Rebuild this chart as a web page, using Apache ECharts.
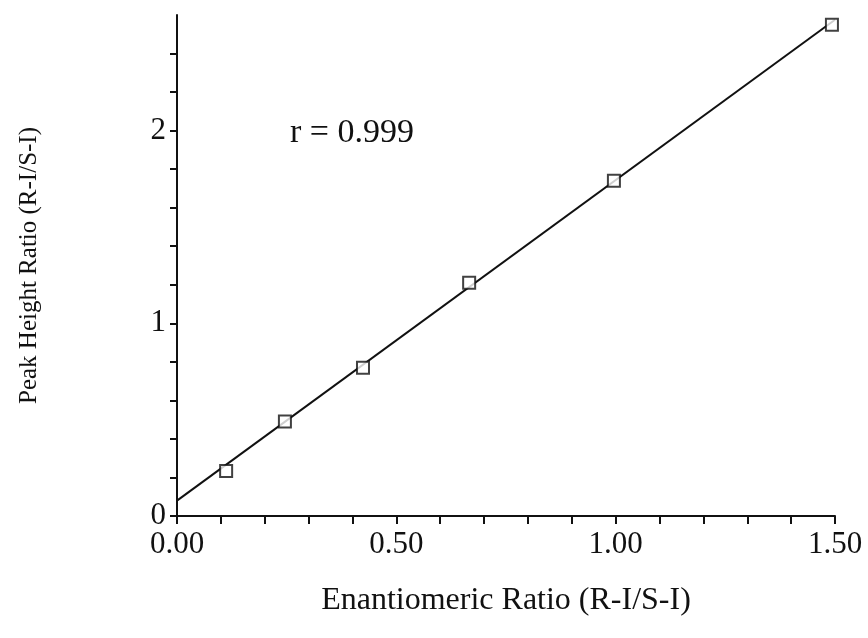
<!DOCTYPE html>
<html><head><meta charset="utf-8">
<script src="https://cdn.jsdelivr.net/npm/echarts@6/dist/echarts.min.js"></script>
<style>html,body{margin:0;padding:0;background:#fff}#c{width:868px;height:638px}</style>
</head><body><div id="c"></div>
<script>
var pointsX = [0.112, 0.246, 0.424, 0.666, 0.996, 1.493];
var pointsY = [0.234, 0.49, 0.77, 1.21, 1.74, 2.55];
var fitX = [0, 1.5];
var fitY = [0.08, 2.575];
var xTickLabels = ['0.00', '0.50', '1.00', '1.50'];
var yTickLabels = ['0', '1', '2'];
var annotation = 'r = 0.999';
var xTitle = 'Enantiomeric Ratio (R-I/S-I)';
var yTitle = 'Peak Height Ratio (R-I/S-I)';

var font = 'Liberation Serif';
var chart = echarts.init(document.getElementById('c'), null, {renderer: 'canvas'});
function near(v, step) { return Math.abs(v / step - Math.round(v / step)) < 1e-6; }
chart.setOption({
  animation: false,
  backgroundColor: '#fff',
  grid: {left: 177, right: 33, top: 15, bottom: 122, containLabel: false},
  xAxis: {
    type: 'value', min: 0, max: 1.5, interval: 0.1,
    name: xTitle, nameLocation: 'middle', nameGap: 69,
    nameTextStyle: {fontFamily: font, fontSize: 32, color: '#111'},
    axisLine: {show: true, onZero: false, lineStyle: {color: '#111', width: 2}},
    axisTick: {show: true, length: 8, lineStyle: {color: '#111', width: 2}},
    splitLine: {show: false},
    axisLabel: {
      fontFamily: font, fontSize: 31, color: '#111', margin: 13,
      showMinLabel: true, showMaxLabel: true,
      formatter: function (v) {
        if (!near(v, 0.5)) return '';
        return xTickLabels[Math.round(v / 0.5)];
      }
    }
  },
  yAxis: {
    type: 'value', min: 0, max: 2.6, interval: 0.2,
    name: yTitle, nameLocation: 'middle', nameGap: 135, nameRotate: 90,
    nameTextStyle: {fontFamily: font, fontSize: 25, color: '#111'},
    axisLine: {show: true, onZero: false, lineStyle: {color: '#111', width: 2}},
    axisTick: {show: true, length: 7, lineStyle: {color: '#111', width: 2}},
    splitLine: {show: false},
    axisLabel: {
      fontFamily: font, fontSize: 31, color: '#111', margin: 11,
      showMaxLabel: false,
      formatter: function (v) {
        if (!near(v, 1)) return '';
        return yTickLabels[Math.round(v)] || '';
      }
    }
  },
  graphic: [{
    type: 'text', left: 290, top: 116,
    style: {text: annotation, fontFamily: font, fontSize: 34, fill: '#111'}
  }],
  series: [
    {
      type: 'line', data: fitX.map(function (x, i) { return [x, fitY[i]]; }),
      showSymbol: false, symbol: 'none', lineStyle: {color: '#111', width: 2}, z: 2
    },
    {
      type: 'scatter', data: pointsX.map(function (x, i) { return [x, pointsY[i]]; }),
      symbol: 'rect', symbolSize: 12,
      itemStyle: {color: '#fff', borderColor: '#111', borderWidth: 2}, z: 3
    }
  ]
});
</script></body></html>
